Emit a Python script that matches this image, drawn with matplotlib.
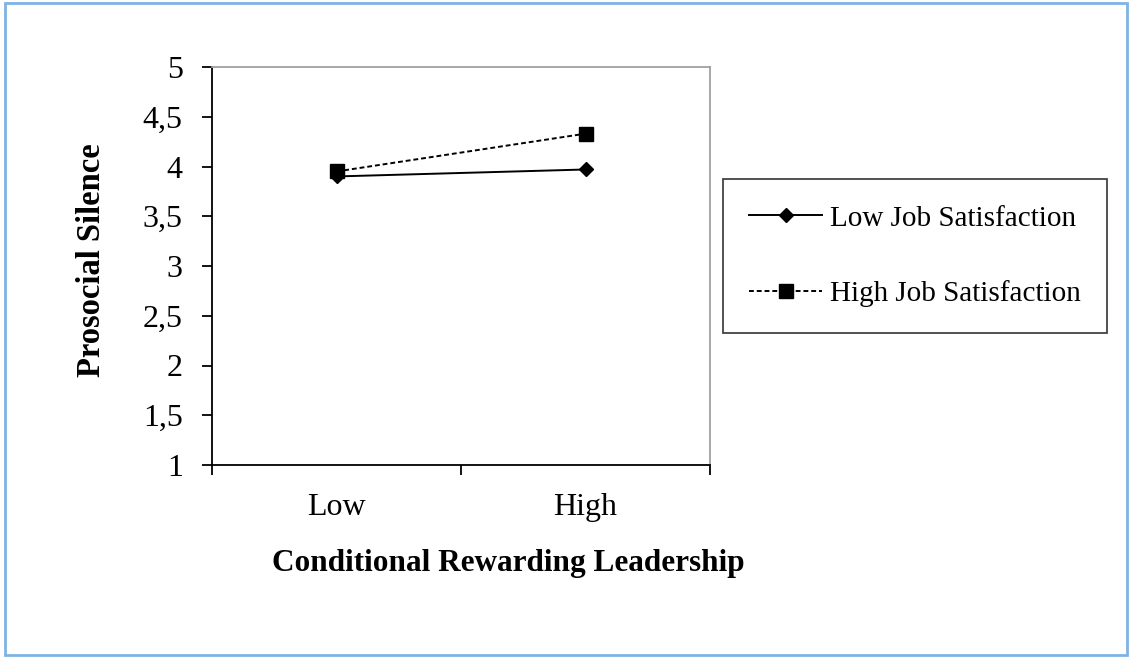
import matplotlib.pyplot as plt
from matplotlib.patches import Rectangle

# data
categories = ["Low", "High"]
low_js = [3.90, 3.97]
high_js = [3.95, 4.33]
y_ticks = [1, 1.5, 2, 2.5, 3, 3.5, 4, 4.5, 5]
y_labels = ["1", "1,5", "2", "2,5", "3", "3,5", "4", "4,5", "5"]

plt.rcParams['font.family'] = ['Liberation Serif', 'DejaVu Serif']

fig = plt.figure(figsize=(11.3, 6.57), dpi=100)
W, H = 1130, 657
ax = fig.add_axes([212 / W, 1 - 465 / H, (710 - 212) / W, (465 - 67) / H])

x = list(range(len(categories)))
ax.plot(x, low_js, color='black', lw=1.4, marker='D', markersize=7,
        label="Low Job Satisfaction")
ax.plot(x, high_js, color='black', lw=1.4, ls=(0, (2.5, 1.5)), marker='s',
        markersize=10, label="High Job Satisfaction")

ax.set_xlim(-0.5, 1.5)
ax.set_ylim(1, 5)
ax.set_yticks(y_ticks)
ax.set_yticklabels(y_labels, fontsize=23)
ax.set_xticks([-0.5, 0.5, 1.5])
ax.set_xticklabels([])
ax.set_xticks(x, minor=True)
ax.set_xticklabels(categories, minor=True, fontsize=23)
ax.tick_params(axis='x', which='minor', length=0, pad=20)
ax.tick_params(axis='x', which='major', direction='out', length=7, width=1.3)
ax.tick_params(axis='y', direction='out', length=7, width=1.3, pad=14)

for s in ['left', 'bottom']:
    ax.spines[s].set_color('black')
    ax.spines[s].set_linewidth(1.3)
for s in ['top', 'right']:
    ax.spines[s].set_color('#a0a0a0')
    ax.spines[s].set_linewidth(1.3)

# axis titles sit where they are in the reference, not centred on the axes
fig.text(508 / W, 1 - 563 / H, "Conditional Rewarding Leadership", fontsize=22.5,
         fontweight='bold', ha='center', va='center')
fig.text(91 / W, 1 - 260 / H, "Prosocial Silence", fontsize=23.5, fontweight='bold',
         rotation=90, ha='center', va='center')

leg = ax.legend(loc='upper left', bbox_to_anchor=(723 / W, 1 - 179 / H),
                bbox_transform=fig.transFigure, borderaxespad=0, fontsize=21,
                frameon=True, fancybox=False, edgecolor='black', handlelength=2.5,
                handletextpad=0.28, labelspacing=1.66, borderpad=0.9)
leg.get_frame().set_linewidth(1.2)

fig.patches.append(Rectangle((5 / W, 2 / H), 1122 / W, 652 / H, transform=fig.transFigure,
                             fill=False, edgecolor='#7fb3e3', linewidth=2))

fig.savefig("out.png", dpi=100)
